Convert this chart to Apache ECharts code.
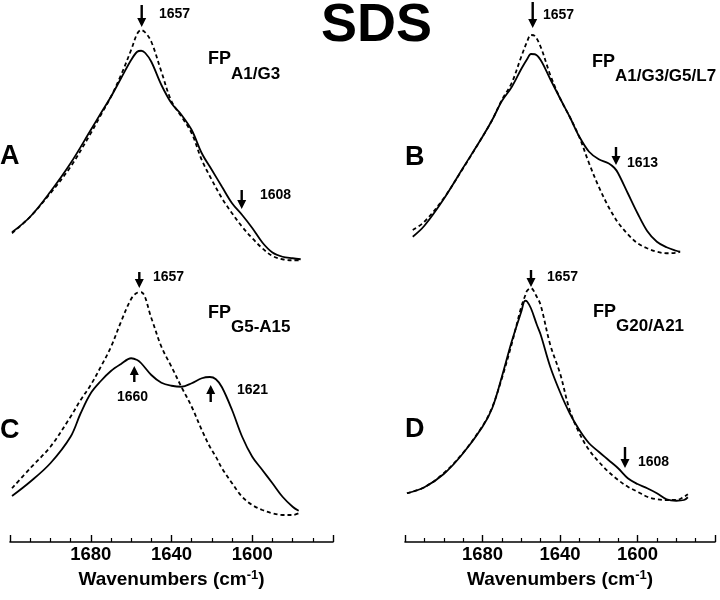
<!DOCTYPE html>
<html>
<head>
<meta charset="utf-8">
<script src="https://cdn.jsdelivr.net/npm/echarts@6/dist/echarts.min.js"></script>
<style>html,body{margin:0;padding:0;background:#fff;}#chart{width:720px;height:600px;}</style>
</head>
<body>
<div id="chart"></div>
<script>
// ---- Data (wavenumbers in cm-1, absorbance in arbitrary units) ----
const wnA = [1719,1710,1700,1690,1680,1675,1670,1665,1660,1657,1655,1653,1650,1645,1640,1635,1630,1625,1620,1615,1610,1605,1600,1595,1590,1585,1580,1576];
const solidA = [.151,.213,.313,.427,.560,.627,.693,.767,.840,.873,.877,.868,.833,.740,.667,.620,.560,.467,.400,.333,.267,.220,.168,.110,.070,.053,.047,.043];
const dashedA = [.147,.213,.307,.413,.547,.620,.693,.780,.880,.945,.960,.950,.913,.793,.675,.613,.547,.440,.360,.287,.227,.173,.127,.087,.056,.043,.039,.039];

const wnB = [1716,1710,1700,1690,1680,1675,1670,1665,1660,1657,1655,1653,1650,1645,1640,1635,1630,1625,1620,1615,1612,1610,1605,1600,1595,1590,1585,1580,1578];
const solidB = [.133,.177,.284,.409,.533,.600,.676,.731,.804,.843,.864,.863,.840,.763,.687,.613,.533,.473,.443,.427,.409,.387,.307,.227,.156,.113,.091,.077,.073];
const dashedB = [.160,.193,.287,.407,.533,.600,.680,.747,.853,.913,.940,.936,.893,.780,.687,.613,.531,.427,.333,.253,.213,.189,.143,.107,.087,.073,.067,.069,.073];

const wnC = [1719,1710,1700,1690,1685,1680,1675,1670,1665,1660,1657,1655,1650,1645,1640,1635,1630,1625,1621,1618,1615,1610,1605,1600,1595,1590,1585,1580,1577];
const solidC = [.184,.241,.315,.421,.515,.595,.644,.684,.712,.735,.728,.715,.668,.637,.625,.621,.635,.655,.660,.651,.619,.528,.421,.341,.288,.235,.181,.141,.125];
const dashedC = [.215,.295,.381,.501,.568,.628,.701,.780,.881,.972,.997,.999,.896,.781,.701,.619,.541,.448,.381,.341,.295,.235,.181,.148,.128,.115,.108,.108,.115];

const wnD = [1719,1710,1700,1690,1680,1675,1670,1665,1660,1658,1657,1655,1652,1650,1645,1640,1635,1630,1625,1620,1615,1610,1605,1600,1595,1590,1585,1580,1576,1574];
const solidD = [.195,.219,.272,.355,.461,.535,.661,.800,.921,.965,.962,.935,.870,.830,.700,.600,.515,.448,.395,.361,.328,.295,.255,.232,.215,.195,.171,.165,.168,.179];
const dashedD = [.195,.219,.275,.357,.464,.539,.655,.790,.940,.985,1.005,1.015,.981,.948,.788,.675,.528,.435,.368,.321,.281,.248,.221,.201,.181,.171,.168,.168,.181,.191];

const axisMin = 1560, axisMax = 1720, majorStep = 40;
const labeledTicks = [1680, 1640, 1600];
const panelLetters = ['A', 'B', 'C', 'D'];
const fpSubs = ['A1/G3', 'A1/G3/G5/L7', 'G5-A15', 'G20/A21'];

// ---- Build ----
const FONT = '"Liberation Sans", Arial, Helvetica, sans-serif';
const zip = (xs, ys) => xs.map((x, i) => [x, ys[i]]);

const grids = [
  {left: 10, right: 387, top: 12.5, bottom: 330},
  {left: 405, right: 5, top: 12.5, bottom: 330},
  {left: 10, right: 387, top: 284.5, bottom: 58},
  {left: 405, right: 5, top: 284.5, bottom: 58}
];

function xAx(i, visible) {
  return {
    type: 'value', gridIndex: i, inverse: true,
    min: axisMin, max: axisMax, interval: majorStep,
    show: visible,
    axisLine: {show: true, onZero: false, lineStyle: {color: '#000', width: 1.6}},
    axisTick: {show: true, inside: true, length: 7, lineStyle: {color: '#000', width: 1.4}},
    minorTick: {show: true, splitNumber: 4, length: 4, lineStyle: {color: '#000', width: 1.2}},
    splitLine: {show: false}, minorSplitLine: {show: false},
    axisLabel: {
      margin: 3, color: '#000', fontSize: 18.5, fontWeight: 'bold', fontFamily: FONT,
      formatter: v => labeledTicks.indexOf(v) >= 0 ? String(v) : ''
    },
    name: '{a|Wavenumbers (cm}{s|-1}{a|)}',
    nameLocation: 'middle', nameGap: 27,
    nameTextStyle: {
      rich: {
        a: {fontSize: 19, fontWeight: 'bold', fontFamily: FONT, color: '#000', lineHeight: 20, verticalAlign: 'bottom'},
        s: {fontSize: 13, fontWeight: 'bold', fontFamily: FONT, color: '#000', lineHeight: 20, verticalAlign: 'top'}
      }
    }
  };
}
function yAx(i) {
  return {type: 'value', gridIndex: i, min: 0, max: 1.03, show: false};
}
function lineSeries(i, data, dashed) {
  return {
    type: 'line', xAxisIndex: i, yAxisIndex: i, data: data,
    showSymbol: false, smooth: 0.35, clip: false,
    lineStyle: {color: '#000', width: 1.8, type: dashed ? [4, 3] : 'solid'}
  };
}

const sets = [[wnA, solidA, dashedA], [wnB, solidB, dashedB], [wnC, solidC, dashedC], [wnD, solidD, dashedD]];
const series = [];
sets.forEach((s, i) => {
  series.push(lineSeries(i, zip(s[0], s[2]), true));
  series.push(lineSeries(i, zip(s[0], s[1]), false));
});

// annotations (layout)
function txt(x, y, text, size, align) {
  return {type: 'text', x: x, y: y, style: {text: text, font: 'bold ' + size + 'px ' + FONT, fill: '#000', align: align || 'left', verticalAlign: 'middle'}};
}
function fpLabel(x, top, sub) {
  return {type: 'text', x: x, y: top, style: {
    text: '{f|FP}{s|' + sub + '}', align: 'left', verticalAlign: 'top',
    rich: {
      f: {fontSize: 18, fontWeight: 'bold', fontFamily: FONT, fill: '#000', verticalAlign: 'top'},
      s: {fontSize: 17, fontWeight: 'bold', fontFamily: FONT, fill: '#000', lineHeight: 32, verticalAlign: 'bottom'}
    }
  }};
}
function arrowDown(x, y0, y1) {
  const h = 9, hw = 4.5, sw = 1.2;
  return {type: 'polygon', shape: {points: [[x - sw, y0], [x + sw, y0], [x + sw, y1 - h], [x + hw, y1 - h], [x, y1], [x - hw, y1 - h], [x - sw, y1 - h]]}, style: {fill: '#000'}};
}
function arrowUp(x, y0, y1) {
  const h = 9, hw = 4.5, sw = 1.2;
  return {type: 'polygon', shape: {points: [[x, y0], [x + hw, y0 + h], [x + sw, y0 + h], [x + sw, y1], [x - sw, y1], [x - sw, y0 + h], [x - hw, y0 + h]]}, style: {fill: '#000'}};
}

const graphics = [
  txt(0, 157, panelLetters[0], 27), txt(405, 157.5, panelLetters[1], 27),
  txt(0, 431, panelLetters[2], 27), txt(405, 430, panelLetters[3], 27),
  fpLabel(208, 50.5, fpSubs[0]), fpLabel(592, 53, fpSubs[1]),
  fpLabel(208, 304, fpSubs[2]), fpLabel(593, 303, fpSubs[3]),
  arrowDown(141.7, 5, 27), txt(159, 14, '1657', 14),
  arrowDown(241.7, 190, 209), txt(260, 195, '1608', 14),
  arrowDown(532.7, 2, 28), txt(543, 15, '1657', 14),
  arrowDown(616, 147, 165), txt(627, 163, '1613', 14),
  arrowDown(139.3, 272, 288), txt(153, 277, '1657', 14),
  arrowUp(134.3, 366, 382), txt(132.5, 397, '1660', 14, 'center'),
  arrowUp(210.7, 385, 402), txt(237, 390, '1621', 14),
  arrowDown(531, 270, 287), txt(547, 277, '1657', 14),
  arrowDown(625, 447, 468), txt(638, 462, '1608', 14)
];

const chart = echarts.init(document.getElementById('chart'), null, {renderer: 'canvas'});
chart.setOption({
  animation: false,
  backgroundColor: '#fff',
  title: {text: 'SDS', left: 321, top: -1, padding: 0,
    textStyle: {fontSize: 54, fontWeight: 'bold', fontFamily: FONT, color: '#000'}},
  grid: grids,
  xAxis: [xAx(0, false), xAx(1, false), xAx(2, true), xAx(3, true)],
  yAxis: [yAx(0), yAx(1), yAx(2), yAx(3)],
  series: series,
  graphic: graphics
});
</script>
</body>
</html>
